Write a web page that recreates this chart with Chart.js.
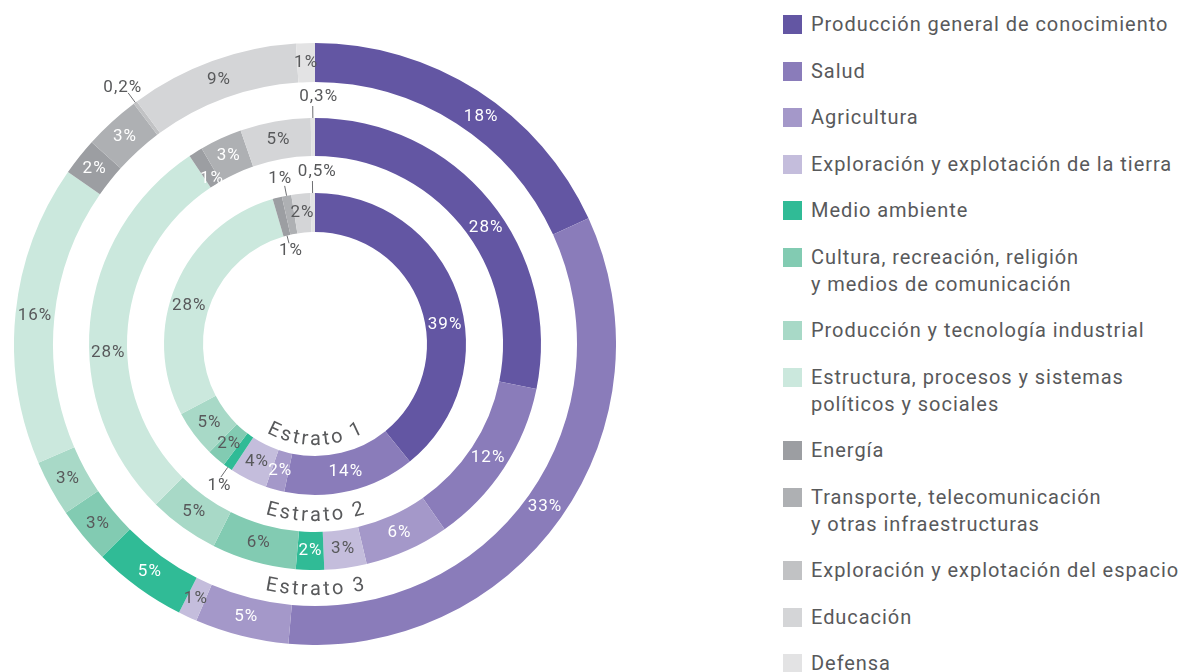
<!DOCTYPE html>
<html lang="es">
<head>
<meta charset="utf-8">
<title>Distribución por estrato</title>
<script src="https://cdn.jsdelivr.net/npm/chart.js@4.4.1/dist/chart.umd.min.js"></script>
<style>
  body { margin: 0; background: #fff; font-family: Roboto, "Noto Sans", sans-serif; }
  #grafico { position: absolute; left: 14px; top: 43px; width: 602px; height: 602px; }
  #leyenda { position: absolute; left: 783px; top: 11px; margin: 0; padding: 0; list-style: none; }
  #leyenda li { display: flex; align-items: flex-start; margin-bottom: 19.5px; font-size: 20px; line-height: 27px; letter-spacing: 0.95px; color: #58595b; white-space: nowrap; }
  #leyenda .caja { width: 19px; height: 19px; margin-top: 4px; margin-right: 9px; flex: none; }
</style>
</head>
<body>
<div id="grafico"><canvas id="anillos"></canvas></div>
<ul id="leyenda"></ul>

<script>
// -------- DATOS --------
const categorias = [
    "Producción general de conocimiento",
    "Salud",
    "Agricultura",
    "Exploración y explotación de la tierra",
    "Medio ambiente",
    "Cultura, recreación, religión\ny medios de comunicación",
    "Producción y tecnología industrial",
    "Estructura, procesos y sistemas\npolíticos y sociales",
    "Energía",
    "Transporte, telecomunicación\ny otras infraestructuras",
    "Exploración y explotación del espacio",
    "Educación",
    "Defensa"
];

const estrato1 = [39, 14, 2, 4, 1, 2, 5, 28, 1, 1, 0, 2, 0.5];
const estrato2 = [28, 12, 6, 3, 2, 6, 5, 28, 1, 3, 0, 5, 0.3];
const estrato3 = [18, 33, 5, 1, 5, 3, 3, 16, 2, 3, 0.2, 9, 1];

const colores = [
    "#6356a3", "#8a7cba", "#a498c9", "#c4bddc", "#30bb96", "#82cbb2", "#a8d9c7",
    "#cbe8dd", "#9c9ea2", "#aeb0b3", "#c1c2c4", "#d4d5d7", "#e3e3e4"
];

// texto blanco sobre los colores oscuros
const textoBlanco = [true, true, true, false, true, false, false, false, true, true, false, false, false];

const GRIS = "#58595b";

// -------- LEYENDA --------
const leyenda = document.getElementById("leyenda");
categorias.forEach((c, i) => {
    const li = document.createElement("li");
    const caja = document.createElement("span");
    caja.className = "caja";
    caja.style.background = colores[i];
    const txt = document.createElement("span");
    txt.innerHTML = c.replace("\n", "<br>");
    li.appendChild(caja);
    li.appendChild(txt);
    leyenda.appendChild(li);
});

// -------- ETIQUETAS --------
// ajustes de posición: grados y radio
const ajustes = {
    "1-0": { ang: 11 }, "1-7": { ang: -6 },
    "2-0": { ang: 5 }, "2-7": { ang: -8 }, "2-8": { rad: -12 },
    "3-0": { ang: 3.5 }
};

// etiquetas con línea guía
const guias = {
    "1-4": { borde: "ext", largo: 12, dist: 11, dx: 5, dy: 0 },
    "1-8": { borde: "int", largo: 8, dist: 8, dx: 0, dy: 0 },
    "1-9": { borde: "ext", largo: 10, dist: 8, dx: -3, dy: 1 },
    "1-12": { borde: "ext", largo: 12, dist: 9, dx: 5, dy: 0 },
    "2-12": { borde: "ext", largo: 12, dist: 9, dx: 6, dy: 0 },
    "3-10": { borde: "ext", largo: 12, dist: 9, dx: 0, dy: 2 }
};

const pluginEtiquetas = {
    id: "etiquetas",
    afterDatasetsDraw(chart) {
        const ctx = chart.ctx;
        ctx.save();
        ctx.font = "17px Roboto";
        ctx.letterSpacing = "1px";
        ctx.textAlign = "center";
        ctx.textBaseline = "middle";
        chart.data.datasets.forEach((ds, i) => {
            if (!ds.estrato) return;
            const meta = chart.getDatasetMeta(i);
            meta.data.forEach((arc, j) => {
                const v = ds.data[j];
                if (!v) return;
                const p = arc.getProps(["x", "y", "startAngle", "endAngle", "innerRadius", "outerRadius"], true);
                const key = ds.estrato + "-" + j;
                const texto = String(v).replace(".", ",") + "%";
                const aj = ajustes[key] || {};
                const mid = (p.startAngle + p.endAngle) / 2 + (aj.ang || 0) * Math.PI / 180;
                const g = guias[key];
                if (g) {
                    const r0 = g.borde === "ext" ? p.outerRadius : p.innerRadius;
                    const s = g.borde === "ext" ? 1 : -1;
                    const ux = Math.cos(mid) * s, uy = Math.sin(mid) * s;
                    const x0 = p.x + Math.cos(mid) * r0, y0 = p.y + Math.sin(mid) * r0;
                    const x1 = x0 + ux * g.largo, y1 = y0 + uy * g.largo;
                    ctx.strokeStyle = "#6d6e71";
                    ctx.lineWidth = 1;
                    ctx.beginPath();
                    ctx.moveTo(x0, y0);
                    ctx.lineTo(x1, y1);
                    ctx.stroke();
                    ctx.fillStyle = GRIS;
                    ctx.fillText(texto, x1 + ux * g.dist + g.dx, y1 + uy * g.dist + g.dy);
                } else {
                    const r = (p.innerRadius + p.outerRadius) / 2 + (aj.rad || 0);
                    ctx.fillStyle = textoBlanco[j] ? "#ffffff" : GRIS;
                    ctx.fillText(texto, p.x + Math.cos(mid) * r, p.y + Math.sin(mid) * r);
                }
            });
        });
        ctx.restore();
    }
};

// texto curvo "Estrato N" bajo cada anillo
const pluginEstratos = {
    id: "estratos",
    afterDatasetsDraw(chart) {
        const ctx = chart.ctx;
        ctx.save();
        ctx.font = "20px Roboto";
        ctx.fillStyle = GRIS;
        ctx.textAlign = "center";
        ctx.textBaseline = "alphabetic";
        const esp = 2.6;
        chart.data.datasets.forEach((ds, i) => {
            if (!ds.estrato) return;
            const arc = chart.getDatasetMeta(i).data[0];
            const p = arc.getProps(["x", "y", "innerRadius"], true);
            const r = p.innerRadius - 11;
            const texto = "Estrato " + ds.estrato;
            const anchos = [...texto].map(ch => ctx.measureText(ch).width);
            const total = anchos.reduce((a, b) => a + b, 0) + esp * (anchos.length - 1);
            let a = Math.PI / 2 + total / r / 2;
            [...texto].forEach((ch, k) => {
                const w = anchos[k];
                const ac = a - (w / 2) / r;
                ctx.save();
                ctx.translate(p.x + Math.cos(ac) * r, p.y + Math.sin(ac) * r);
                ctx.rotate(ac - Math.PI / 2);
                ctx.fillText(ch, 0, 0);
                ctx.restore();
                a -= (w + esp) / r;
            });
        });
        ctx.restore();
    }
};

// -------- GRAFICO --------
const hueco = w => ({ data: [1], backgroundColor: "rgba(0,0,0,0)", weight: w, borderWidth: 0 });

new Chart(document.getElementById("anillos"), {
    type: "doughnut",
    data: {
        labels: categorias,
        datasets: [
            { estrato: 3, data: estrato3, backgroundColor: colores, weight: 39, borderWidth: 0 },
            hueco(36),
            { estrato: 2, data: estrato2, backgroundColor: colores, weight: 38, borderWidth: 0 },
            hueco(37),
            { estrato: 1, data: estrato1, backgroundColor: colores, weight: 39, borderWidth: 0 }
        ]
    },
    options: {
        responsive: true,
        maintainAspectRatio: false,
        animation: false,
        events: [],
        cutout: 112,
        hoverOffset: 0,
        hoverBorderWidth: 0,
        layout: { padding: 0 },
        plugins: {
            legend: { display: false },
            tooltip: { enabled: false }
        }
    },
    plugins: [pluginEtiquetas, pluginEstratos]
});
</script>
</body>
</html>
